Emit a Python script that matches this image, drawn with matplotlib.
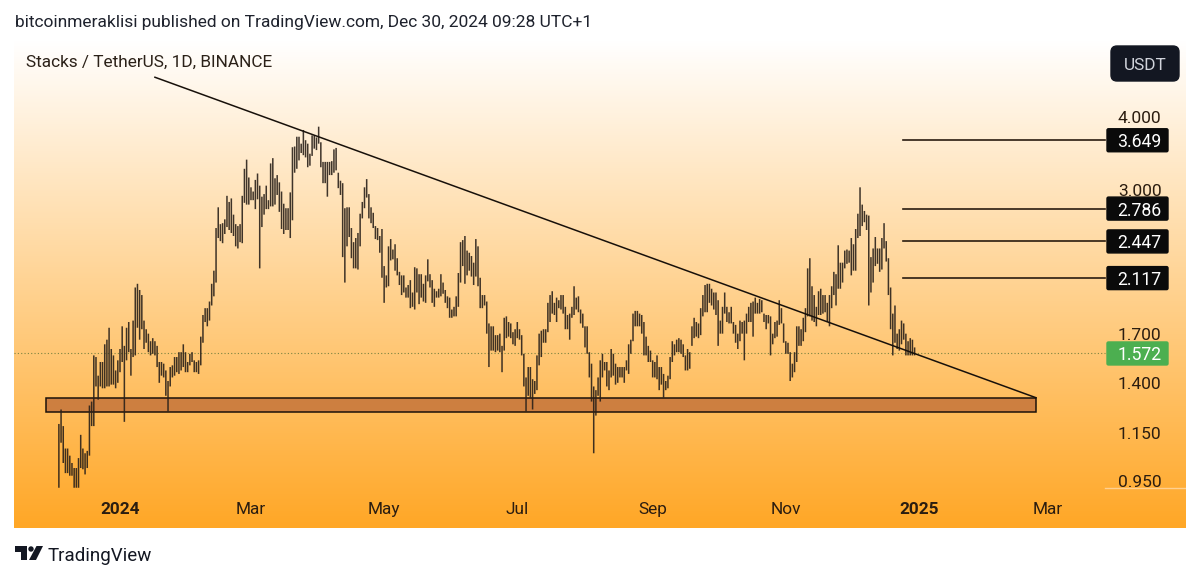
import numpy as np
import matplotlib
matplotlib.use("Agg")
import matplotlib.pyplot as plt
from matplotlib.colors import LinearSegmentedColormap
from matplotlib.patches import FancyBboxPatch, Polygon, Circle, Rectangle

plt.rcParams['font.family'] = ['Roboto', 'DejaVu Sans']

# daily highs and lows
highs_a = [1.19,1.26,1.18,1.08,1.08,1.05,1.02,1.00,1.00,1.04,1.14,1.08,1.06,1.07,1.28,1.30,1.56,1.55,1.44,1.52,
           1.52,1.63,1.66,1.74,1.60,1.56,1.47,1.53,1.60,1.75,1.62,1.74,1.78,1.60,1.79,2.04,2.07,2.02,1.98,1.79,
           1.73,1.70,1.65,1.67,1.65,1.62,1.52,1.52,1.51,1.47,1.41,1.49,1.50,1.55,1.55,1.58,1.58,1.63,1.58,1.52,
           1.57,1.58,1.53,1.52,1.53,1.68,1.83,1.88,1.88,1.93,2.07,2.18,2.58,2.80,2.62,2.63,2.67,2.93,2.86,2.90,
           2.72,2.62,2.60,2.62,2.93,3.26,3.38,3.15,3.03,2.98,3.12,3.20,3.05,2.92,2.95,3.05,2.88,3.33,3.40,3.14,
           3.18,3.09,2.98,2.84,2.79,2.79,2.97,3.55,3.56,3.70,3.70,3.60,3.80,3.65,3.60,3.46,3.72,3.72,3.69,3.85,
           3.62,3.35,3.35,3.35,3.35,3.36,3.52,3.54,3.21,3.11,3.08,2.79,2.80,2.80,2.58,2.44,2.48,2.53,2.73,2.86,
           3.03,3.13,2.95]
lows_a = [.925,1.105,1.02,.98,.98,.97,.97,.925,.925,.925,1.0,.995,.975,1.0,1.05,1.18,1.18,1.38,1.31,1.38,
          1.37,1.37,1.38,1.38,1.39,1.39,1.37,1.40,1.46,1.52,1.20,1.53,1.58,1.44,1.55,1.56,1.74,1.66,1.73,1.60,
          1.64,1.58,1.56,1.57,1.56,1.49,1.40,1.44,1.43,1.33,1.25,1.38,1.43,1.44,1.46,1.45,1.47,1.49,1.46,1.46,
          1.50,1.52,1.46,1.46,1.45,1.50,1.64,1.78,1.75,1.79,1.90,1.97,2.08,2.48,2.45,2.43,2.52,2.59,2.56,2.53,
          2.50,2.40,2.38,2.44,2.43,2.85,2.83,2.83,2.88,2.88,2.78,2.89,2.20,2.59,2.72,2.78,2.78,2.81,2.81,2.83,
          2.94,2.75,2.57,2.52,2.56,2.56,2.48,2.66,3.21,3.26,3.37,3.47,3.44,3.41,3.28,3.30,3.43,3.53,3.51,3.60,
          3.28,3.08,3.08,2.92,3.18,3.18,3.21,3.24,3.02,2.94,2.30,2.08,2.40,2.49,2.29,2.20,2.20,2.19,2.40,2.68,
          2.79,2.91,2.68]

highs_b = [2.80,2.74,2.60,2.58,2.50,2.57,2.22,2.14,2.40,2.47,2.37,2.42,2.29,2.17,2.14,2.14,2.04,2.06,2.10,2.00,
           2.21,2.20,2.15,2.15,2.07,2.14,2.28,2.15,2.10,2.03,2.01,2.03,2.15,2.08,2.02,1.97,1.96,1.87,1.89,1.97,
           2.16,2.44,2.46,2.50,2.36,2.34,2.31,2.25,2.47,2.40,2.12,1.98,1.98,1.93,1.77,1.75,1.75,1.69,1.69,1.70,
           1.62,1.81,1.82,1.78,1.77,1.71,1.73,1.78,1.73,1.69,1.57,1.43,1.49,1.49,1.42,1.41,1.56,1.70,1.72,1.73,
           1.73,1.92,1.98,2.01,1.92,1.96,1.94,1.98,1.98,1.89,1.83,1.84,1.89,2.05,1.96,1.97,1.87,1.84,1.75,1.75,
           1.58,1.51,1.38,1.36,1.43,1.53,1.57,1.52,1.52,1.47,1.60,1.57,1.51,1.49,1.49,1.49,1.49,1.53,1.63,1.66,
           1.84,1.86,1.86,1.84,1.83,1.78,1.68,1.62,1.59,1.53,1.52,1.56,1.49]
lows_b = [2.63,2.58,2.47,2.46,2.34,2.12,1.92,2.04,2.05,2.27,2.28,2.18,2.14,2.06,1.98,2.00,1.96,1.96,1.88,1.89,
          1.87,2.00,1.91,1.96,1.93,1.92,2.09,2.04,1.92,1.89,1.96,1.96,1.97,1.99,1.92,1.88,1.81,1.81,1.82,1.82,
          1.89,2.08,2.22,2.07,2.14,2.18,2.13,2.06,2.13,2.05,1.88,1.88,1.90,1.70,1.49,1.59,1.59,1.58,1.59,1.58,
          1.46,1.59,1.67,1.68,1.67,1.63,1.62,1.67,1.66,1.56,1.38,1.25,1.33,1.32,1.26,1.34,1.36,1.50,1.55,1.64,
          1.64,1.71,1.78,1.84,1.83,1.78,1.88,1.87,1.84,1.73,1.73,1.66,1.81,1.83,1.87,1.85,1.77,1.74,1.61,1.57,
          1.43,1.30,1.06,1.23,1.33,1.30,1.43,1.47,1.38,1.36,1.43,1.44,1.39,1.40,1.43,1.43,1.40,1.47,1.45,1.57,
          1.65,1.75,1.75,1.75,1.70,1.56,1.56,1.52,1.52,1.43,1.43,1.42,1.36]

highs_c = [1.49,1.45,1.41,1.44,1.55,1.65,1.63,1.66,1.67,1.66,1.63,1.56,1.60,1.58,1.75,1.81,1.78,1.77,1.88,1.98,
           2.06,2.07,2.07,2.03,2.00,2.00,1.94,1.79,1.89,2.00,1.89,1.85,1.89,1.78,1.76,1.70,1.79,1.78,1.79,1.84,
           1.89,1.92,1.93,1.96,1.92,1.95,1.94,1.84,1.83,1.83,1.82,1.70,1.78,1.79,1.94,1.88,1.77,1.65,1.64,1.58,
           1.51,1.58,1.75,1.75,1.73,1.81,1.88,2.20,2.29,2.05,1.98,1.89,2.01,2.03,1.98,1.98,1.92,1.98,2.05,2.17,
           2.15,2.41,2.25,2.25,2.36,2.37,2.36,2.48,2.42,2.57,2.73,3.03,2.83,2.76,2.72,2.71,2.30,2.38,2.49,2.38,
           2.38,2.48,2.63,2.45,2.29,2.04,1.84,1.90,1.70,1.73,1.79,1.77,1.70,1.65,1.67,1.66,1.61]
lows_c = [1.39,1.32,1.36,1.37,1.42,1.52,1.56,1.58,1.58,1.57,1.55,1.47,1.47,1.48,1.62,1.67,1.68,1.67,1.69,1.82,
          1.85,1.85,1.92,1.90,1.87,1.83,1.62,1.70,1.70,1.84,1.78,1.77,1.77,1.70,1.64,1.60,1.65,1.70,1.53,1.70,
          1.78,1.78,1.68,1.84,1.84,1.84,1.85,1.78,1.73,1.77,1.56,1.63,1.67,1.68,1.76,1.77,1.64,1.57,1.57,1.41,
          1.43,1.46,1.52,1.62,1.62,1.65,1.71,1.82,1.82,1.79,1.78,1.75,1.83,1.83,1.84,1.85,1.78,1.75,1.88,1.98,
          1.90,2.03,2.03,2.08,2.20,2.24,2.25,2.14,2.18,2.18,2.48,2.50,2.60,2.64,2.56,1.90,2.00,2.08,2.22,2.24,
          2.17,2.19,2.38,2.26,1.98,1.73,1.56,1.64,1.60,1.59,1.63,1.66,1.56,1.56,1.56,1.56,1.56]

highs = highs_a + highs_b + highs_c
lows = lows_a + lows_b + lows_c
first_day = -28   # days relative to 1 Jan 2024

tick_days = [0, 60, 121, 182, 244, 305, 366, 425]
tick_names = ['2024', 'Mar', 'May', 'Jul', 'Sep', 'Nov', '2025', 'Mar']
price_ticks = [4.0, 3.0, 1.7, 1.4, 1.15, 0.95]

trend_days = [16, 419.6]
trend_prices = [4.68, 1.32]
zone_days = [-34, 419.6]
zone_prices = [1.25, 1.316]
level_days = [358.7, 451]
levels = [3.649, 2.786, 2.447, 2.117]
last_price = 1.572

W, H = 1200, 579
INK = '#2b1d10'

fig = plt.figure(figsize=(W / 100, H / 100), dpi=100, facecolor='white')

# overlay axes in pixels, one under and one over the chart
back = fig.add_axes([0, 0, 1, 1], zorder=0)
back.axis('off')
grad = LinearSegmentedColormap.from_list('bg', ['#ffffff', '#ffa726'])
back.imshow(np.linspace(0, 1, 256).reshape(-1, 1), cmap=grad, aspect='auto',
            extent=(14, 1186, 528, 40), zorder=0)
back.set_xlim(0, W)
back.set_ylim(H, 0)

ax = fig.add_axes([14 / W, 1 - 528 / H, 1172 / W, 488 / H], zorder=1)
ax.patch.set_visible(False)
for s in ax.spines.values():
    s.set_visible(False)
ax.set_yscale('log')
ax.set_xlim((14 - 120) / 2.183, (1186 - 120) / 2.183)
ax.set_ylim(4 * np.exp(-(528 - 117) / 253.2), 4 * np.exp((117 - 40) / 253.2))

days = first_day + np.arange(len(highs))
ax.vlines(days, lows, highs, color='#2a211a', lw=1.1, alpha=0.9, zorder=3, snap=False)

ax.axhline(last_price, xmax=(1105 - 14) / 1172, color='#7d8440', lw=0.8, ls=(0, (1, 2)), zorder=1)
ax.add_patch(Rectangle((zone_days[0], zone_prices[0]), zone_days[1] - zone_days[0],
                       zone_prices[1] - zone_prices[0], fc='#cd7f40', ec='#1c120a', lw=1.1, zorder=2))
ax.plot(trend_days, trend_prices, color='#17100a', lw=1.1, zorder=4)
for lv in levels:
    ax.plot(level_days, [lv, lv], color='#2a1c10', lw=1.2, zorder=4)

ax.set_xticks(tick_days)
ax.set_xticklabels(tick_names, fontsize=12.4, color=INK)
for lab in (ax.get_xticklabels()[0], ax.get_xticklabels()[6]):
    lab.set_fontweight('bold')
ax.tick_params(axis='x', length=0, pad=-19)
ax.yaxis.tick_right()
ax.set_yticks(price_ticks)
ax.set_yticklabels(['%.3f' % p for p in price_ticks], fontsize=12.5, color=INK)
ax.minorticks_off()
ax.tick_params(axis='y', length=0, pad=-49)

ax.plot([(1105 - 14) / 1172, 1], [(528 - 487.7) / 488] * 2, transform=ax.transAxes,
        color='#ffd090', lw=1, zorder=1)

# overlay on top: price labels, badge, header and logo
front = fig.add_axes([0, 0, 1, 1], zorder=2)
front.patch.set_visible(False)
front.set_xlim(0, W)
front.set_ylim(H, 0)
front.axis('off')


def price_y(v):
    return H - ax.transData.transform((0, v))[1]


def price_label(v, color):
    y = price_y(v)
    front.add_patch(FancyBboxPatch((1107, y - 11.5), 61, 23, boxstyle='round,pad=0,rounding_size=1.5',
                                   fc=color, ec=color, lw=1))
    front.text(1139.5, y, '%.3f' % v, color='white', fontsize=12.7, ha='center', va='center_baseline')


for lv in levels:
    price_label(lv, '#0a0a0a')
price_label(last_price, '#4caf50')

front.add_patch(FancyBboxPatch((1111, 46), 68, 35, boxstyle='round,pad=0,rounding_size=6',
                               fc='#131722', ec='#131722', lw=1))
front.text(1145, 63.5, 'USDT', color='#d1d4dc', fontsize=12.4, ha='center', va='center_baseline')

front.text(26, 61, 'Stacks / TetherUS, 1D, BINANCE', color='#2b2118', fontsize=12.45, va='center_baseline')
front.text(15, 21, 'bitcoinmeraklisi published on TradingView.com, Dec 30, 2024 09:28 UTC+1',
           color='#1e222d', fontsize=12.5, va='center_baseline')

logo = '#131722'
front.add_patch(Polygon([(15, 546), (27, 546), (27, 560), (21, 560), (21, 551.5), (15, 551.5)], fc=logo, ec='none'))
front.add_patch(Circle((31, 549), 2.7, fc=logo, ec='none'))
front.add_patch(Polygon([(36.5, 546), (43, 546), (36, 560), (29, 560)], fc=logo, ec='none'))
front.text(48, 554, 'TradingView', color=logo, fontsize=13.5, va='center_baseline')

fig.savefig('out.png', dpi=100)
